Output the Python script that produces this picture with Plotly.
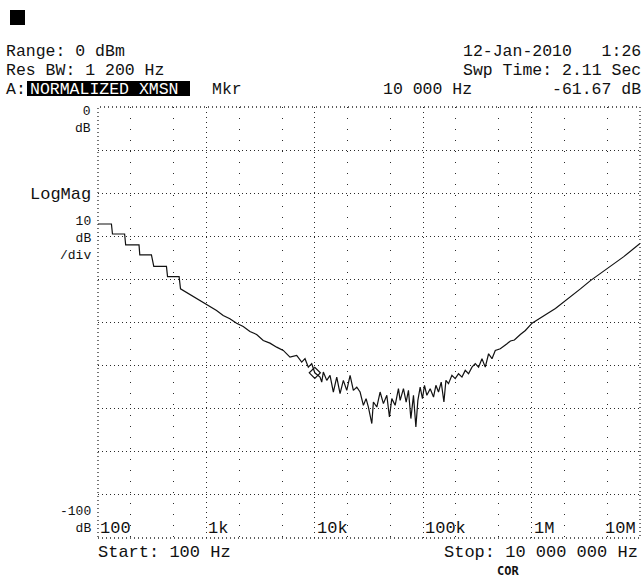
import numpy as np
import plotly.graph_objects as go

# ---------------- data ----------------
freq_hz = [100, 133, 136, 176, 180, 239, 243, 311, 327, 428, 438, 560, 577, 703, 870,
           1000, 1241, 1428, 1647, 1899, 2186, 2521, 2907, 3345, 3858, 4449, 5120, 5904,
           6808, 7571, 8122, 8714, 9365, 10000, 11175, 11585, 11987, 12890, 13820, 14830,
           15940, 17100, 18340, 19720, 21160, 22690, 24390, 26170, 28070, 29730, 31220,
           33570, 34720, 37330, 40040, 42950, 46170, 48810, 51350, 55100, 59100, 61290,
           65740, 69630, 73110, 76950, 81340, 85580, 89300, 93780, 98470, 102750, 108100,
           116000, 124500, 130950, 138450, 146600, 155300, 162000, 171200, 184000, 197400,
           211800, 227800, 244300, 262000, 281800, 302200, 324200, 348500, 373800, 401000,
           431000, 462400, 514300, 572000, 593200, 637500, 694000, 787000, 876300, 1009500,
           1152000, 1389000, 1659000, 1977000, 2820000, 3489000, 4977000, 7087000, 10000000]

magnitude_db = [-27.15, -27.15, -29.47, -29.47, -32.01, -32.01, -34.33, -34.33, -36.97, -36.97,
                -39.35, -39.35, -42.20, -43.52, -44.75, -45.83, -47.22, -48.38, -49.14, -50.16,
                -50.93, -52.08, -52.78, -54.17, -54.79, -55.72, -56.48, -58.03, -57.64, -59.19,
                -58.40, -60.35, -59.56, -61.67, -62.66, -63.82, -61.50, -63.43, -62.27, -66.13,
                -62.66, -66.50, -63.43, -65.74, -62.27, -65.74, -64.98, -66.13, -69.21, -67.66,
                -69.61, -73.45, -68.45, -69.61, -66.13, -68.82, -66.90, -71.92, -67.66, -69.21,
                -65.35, -68.06, -65.35, -68.45, -65.74, -72.29, -66.90, -74.24, -68.06, -64.98,
                -67.66, -64.58, -66.90, -65.35, -67.29, -64.58, -66.13, -63.82, -68.45, -63.43,
                -64.19, -62.27, -63.03, -61.88, -62.66, -61.11, -61.88, -60.35, -59.56, -60.35,
                -58.40, -60.35, -57.25, -58.40, -56.48, -56.09, -55.32, -54.93, -54.28, -54.05,
                -52.78, -51.85, -50.16, -49.19, -47.99, -46.76, -45.30, -42.20, -40.28, -37.57,
                -34.72, -31.64]

marker_freq = [10000]
marker_db = [-61.67]

x_tick_vals = [1e2, 1e3, 1e4, 1e5, 1e6, 1e7]
x_tick_text = ["100", "1k", "10k", "100k", "1M", "10M"]
x_minor_vals = [200, 500, 2e3, 5e3, 2e4, 5e4, 2e5, 5e5, 2e6, 5e6]

assert len(freq_hz) == len(magnitude_db)

# ---------------- layout helpers (pixel -> paper) ----------------
W, H = 644, 580
L, R, T, B = 98, 4, 107, 42


def px(x):
    return (x - L) / (W - L - R)


def py(y):
    return (H - B - y) / (H - T - B)


FONT = "Liberation Mono"
FS = 17
FS_HEAD = 16.5
FS_STACK = 13
INK = "#111111"
GRID = "#2a2a2a"

fig = go.Figure()
fig.add_trace(go.Scatter(x=freq_hz, y=magnitude_db, mode="lines",
                         line=dict(color=INK, width=1.2), hoverinfo="skip"))
fig.add_trace(go.Scatter(x=marker_freq, y=marker_db, mode="markers",
                         marker=dict(symbol="diamond-open", size=8.5, color=INK,
                                     line=dict(width=1.2, color=INK)), hoverinfo="skip"))

annotations = []


def txt(s, x, y, xanchor="left", size=FS, color=INK, family=FONT, yanchor="middle",
        align="left"):
    annotations.append(dict(text=s, x=px(x), y=py(y), xref="paper", yref="paper",
                            xanchor=xanchor, yanchor=yanchor, showarrow=False, align=align,
                            font=dict(family=family, size=size, color=color)))


# header
txt("Range: 0 dBm", 4, 51.5, size=FS_HEAD)
txt("Res BW: 1 200 Hz", 4, 70.5, size=FS_HEAD)
txt("A:", 4, 89, size=FS_HEAD)
txt("NORMALIZED XMSN", 28, 89, color="white", size=FS_HEAD)
txt("Mkr", 210, 89, size=FS_HEAD)
txt("12-Jan-2010   1:26", 643, 51.5, xanchor="right", size=FS_HEAD)
txt("Swp Time: 2.11 Sec", 643, 70.5, xanchor="right", size=FS_HEAD)
txt("10 000 Hz", 381, 89, size=FS_HEAD)
txt("-61.67 dB", 643, 89, xanchor="right", size=FS_HEAD)

# left scale labels
txt("0<br>dB", 93, 119.5, xanchor="right", size=FS_STACK, align="right")
txt("LogMag", 93, 194, xanchor="right")
txt("10<br>dB<br>/div", 93, 238, xanchor="right", size=FS_STACK, align="right")
txt("-100<br>dB", 93, 520, xanchor="right", size=FS_STACK, align="right")

# bottom
txt("Start: 100 Hz", 96, 552)
txt("Stop: 10 000 000 Hz", 640, 552, xanchor="right")
txt("<b>COR</b>", 508, 580, xanchor="center", size=12, family="DejaVu Sans Mono",
    yanchor="bottom")

# x tick labels drawn inside the plot along the bottom grid line
for i, (v, t) in enumerate(zip(x_tick_vals, x_tick_text)):
    last = i == len(x_tick_vals) - 1
    annotations.append(dict(text=t, x=np.log10(v), y=py(528), xref="x", yref="paper",
                            xanchor="right" if last else "left", yanchor="middle",
                            xshift=-2 if last else 0, showarrow=False,
                            font=dict(family=FONT, size=FS, color=INK)))

shapes = [
    # black square at top-left
    dict(type="rect", xref="paper", yref="paper", x0=px(10), x1=px(25), y0=py(25), y1=py(10),
         fillcolor="black", line=dict(width=0), layer="below"),
    # black highlight box behind the trace title
    dict(type="rect", xref="paper", yref="paper", x0=px(27), x1=px(190), y0=py(96), y1=py(81),
         fillcolor="black", line=dict(width=0), layer="below"),
    # dotted frame
    dict(type="rect", xref="paper", yref="paper", x0=0, x1=1, y0=0, y1=1,
         line=dict(color=GRID, width=1.3, dash="1px,3px")),
]

fig.update_layout(
    width=W, height=H,
    margin=dict(l=L, r=R, t=T, b=B, pad=0),
    paper_bgcolor="white", plot_bgcolor="white",
    showlegend=False,
    annotations=annotations,
    shapes=shapes,
    xaxis=dict(type="log", range=[2, 7], tickvals=x_tick_vals, showticklabels=False,
               ticks="", showgrid=True, gridcolor=GRID, gridwidth=1.3, griddash="1px,4px",
               zeroline=False, showline=False, fixedrange=True,
               minor=dict(tickvals=x_minor_vals, showgrid=True, gridcolor=GRID,
                          gridwidth=1.3, griddash="1px,10px", ticks="")),
    yaxis=dict(range=[-100, 0], tick0=0, dtick=10, showticklabels=False, ticks="",
               showgrid=True, gridcolor=GRID, gridwidth=1.3, griddash="1px,3px",
               zeroline=False, showline=False, fixedrange=True),
)

fig.write_html("out.html")
